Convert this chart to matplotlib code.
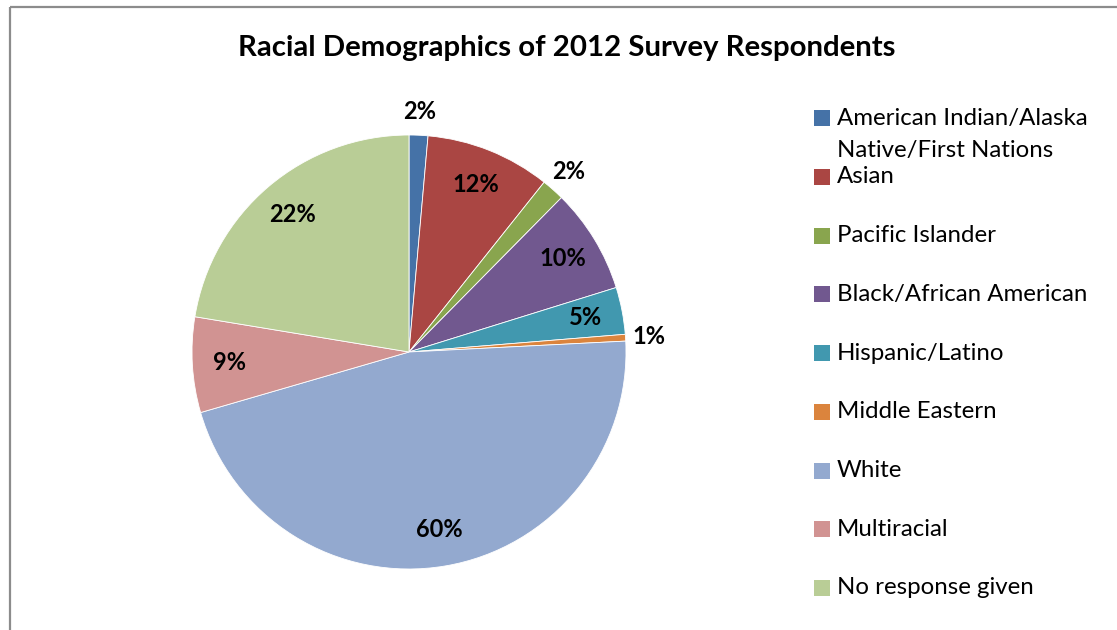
import numpy as np
from matplotlib import pyplot as plt
from matplotlib.patches import Rectangle

# === Datos ===
categories = ["American Indian/Alaska\nNative/First Nations", "Asian", "Pacific Islander",
              "Black/African American", "Hispanic/Latino", "Middle Eastern", "White",
              "Multiracial", "No response given"]
# tamaño relativo de cada porción
shares = [1.4, 9.3, 1.7, 7.8, 3.5, 0.5, 46.3, 7.1, 22.4]
# etiquetas tal como aparecen en el gráfico
pct_labels = ["2%", "12%", "2%", "10%", "5%", "1%", "60%", "9%", "22%"]

colors = ["#4572A7", "#AA4643", "#89A54E", "#71588F", "#4198AF",
          "#DB843D", "#93A9CF", "#D19392", "#B9CD96"]

W, H = 1117, 630
FONT = "Lato"

fig = plt.figure(figsize=(W / 100, H / 100), dpi=100)
fig.patch.set_facecolor("white")

# === Pie ===
cx, cy, r = 409, 352, 217
ax = fig.add_axes([(cx - r) / W, (H - cy - r) / H, 2 * r / W, 2 * r / H])
wedges, _ = ax.pie(shares, colors=colors, startangle=90, counterclock=False,
                   radius=1, wedgeprops=dict(edgecolor="white", linewidth=0.6))
ax.set_xlim(-1, 1)
ax.set_ylim(-1, 1)
ax.set_aspect("equal")
ax.axis("off")

for w, lab, val in zip(wedges, pct_labels, shares):
    mid = np.deg2rad((w.theta1 + w.theta2) / 2)
    dist = 1.11 if val < 2.5 else 0.83
    ax.text(dist * np.cos(mid), dist * np.sin(mid), lab, ha="center", va="center",
            fontsize=17, fontweight="bold", family=FONT, color="black")

# === Overlay: título, leyenda y marco ===
ov = fig.add_axes([0, 0, 1, 1])
ov.set_xlim(0, W)
ov.set_ylim(H, 0)
ov.axis("off")
ov.patch.set_alpha(0)

ov.text(567, 48, "Racial Demographics of 2012 Survey Respondents", ha="center", va="center",
        fontsize=21.2, fontweight="bold", family=FONT, color="black")

y0, step = 118, 58.75
for i, (cat, col) in enumerate(zip(categories, colors)):
    y = y0 + i * step
    ov.add_patch(Rectangle((814, y - 8), 16, 16, facecolor=col, edgecolor="none"))
    for j, line in enumerate(cat.split("\n")):
        ov.text(837, y + j * 33, line, ha="left", va="center",
                fontsize=17.3, family=FONT, color="black")

# marco gris (solo arriba e izquierda visibles)
ov.plot([9.5, W], [7, 7], color="#8C8C8C", linewidth=1.6, solid_capstyle="butt")
ov.plot([9.5, 9.5], [7, H], color="#8C8C8C", linewidth=1.6, solid_capstyle="butt")

plt.savefig("out.png", dpi=100, facecolor="white")
plt.close()
